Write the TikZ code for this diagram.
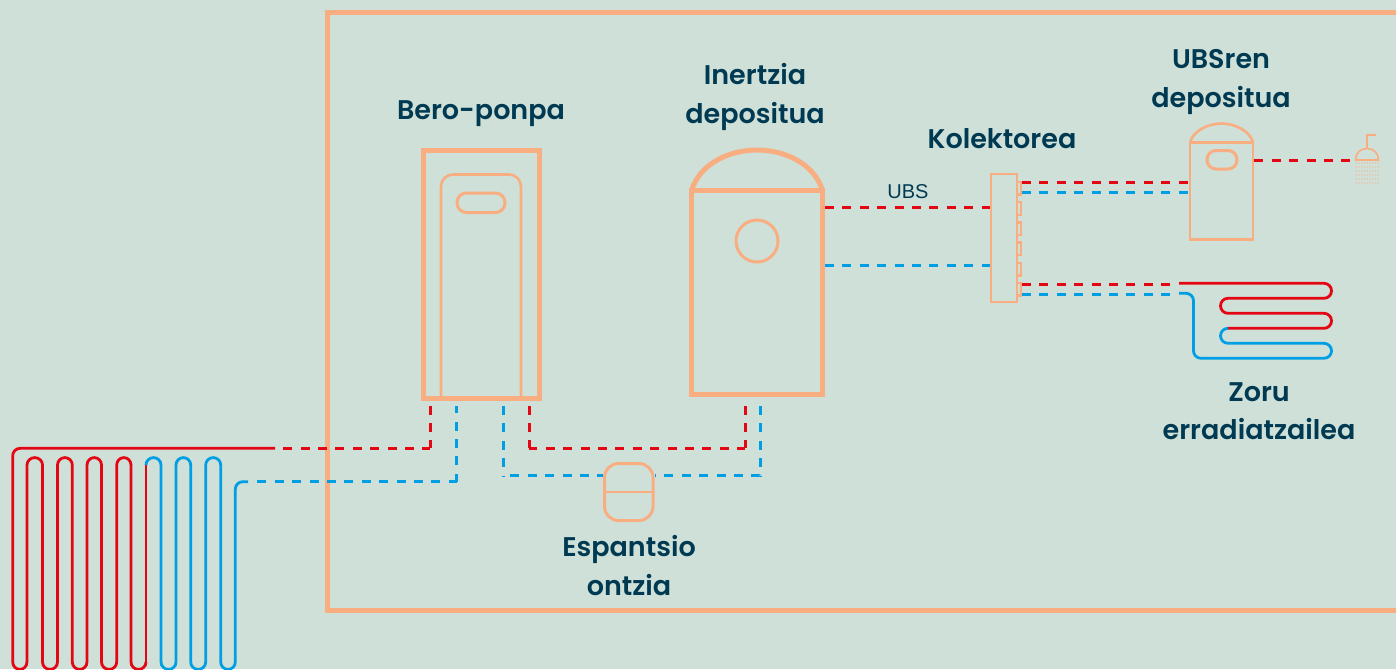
\documentclass[tikz,border=0pt]{standalone}
\usepackage{fontspec}
\setmainfont{Poppins SemiBold}
\newfontfamily\ubsfont{Liberation Sans}
\definecolor{bgc}{HTML}{CFE0D8}
\definecolor{orc}{HTML}{F9AE82}
\definecolor{redc}{HTML}{E30613}
\definecolor{bluc}{HTML}{009FE3}
\definecolor{txtc}{HTML}{003A52}
\tikzset{
  boxbase/.style={draw=orc,rectangle,inner sep=0pt,outer sep=0pt,anchor=north west},
  heavy/.style={boxbase,line width=5pt},
  medium/.style={boxbase,line width=2.6pt},
  thickor/.style={draw=orc,line width=5pt},
  medor/.style={draw=orc,line width=2.6pt},
  dashred/.style={draw=redc,line width=3pt,dash pattern=on 9pt off 8.4pt},
  dashblu/.style={draw=bluc,line width=3pt,dash pattern=on 9pt off 8.4pt},
  fromcorner/.style={dash phase=1pt},
  solred/.style={draw=redc,line width=2.8pt,rounded corners=7.5pt},
  solblu/.style={draw=bluc,line width=2.8pt,rounded corners=7.5pt},
  lab/.style={text=txtc,font=\fontsize{27}{38.5}\selectfont,align=center,inner sep=0pt},
}
\begin{document}
\begin{tikzpicture}[x=1pt,y=-1pt]
\useasboundingbox (0,0) rectangle (1396,669);
\clip (0,0) rectangle (1396,669);
\fill[bgc] (0,0) rectangle (1396,669);
\draw[orc,line width=5pt] (1410,12.5) -- (327.5,12.5) -- (327.5,610.5) -- (1410,610.5);

% heat pump
\node[heavy,minimum width=116pt,minimum height=248pt] (hp) at (423,150) {};
\draw[medor,rounded corners=12pt] (441,398) -- (441,174.5) -- (521,174.5) -- (521,398);
\node[medium,line width=3pt,rounded corners=9.5pt,minimum width=48pt,minimum height=19.5pt] (hphandle) at (457,193) {};

% buffer tank
\node[heavy,minimum width=131pt,minimum height=204pt] (tank) at (691.5,190.5) {};
\draw[thickor] (tank.north west) .. controls (700,163) and (730,150) .. (757,150) .. controls (784,150) and (814,163) .. (tank.north east);
\node[draw=orc,line width=3pt,circle,inner sep=0pt,minimum size=42pt] (gauge) at (757,241) {};

% collector
\node[medium,minimum width=26pt,minimum height=128pt] (coll) at (991,174) {};
\foreach \ty in {181,201.2,221.4,241.6,262,282}
  \draw[orc,line width=2.3pt] (1017,\ty+1) -- (1021,\ty+1) -- (1021,\ty+13.5) -- (1017,\ty+13.5);

% DHW tank
\node[medium,minimum width=63pt,minimum height=97pt] (dhw) at (1190,142.5) {};
\draw[medor] (dhw.north west) .. controls (1193,131) and (1208,123.5) .. (1221.5,123.5) .. controls (1235,123.5) and (1250,131) .. (dhw.north east);
\node[medium,line width=3pt,rounded corners=9pt,minimum width=30pt,minimum height=18.5pt] (dhwhandle) at (1207,150.5) {};

% shower
\coordinate (showertop) at (1367,135);
\draw[orc,line width=2pt] (1376,135) -- (showertop) -- (1367,149);
\draw[orc,line width=1.6pt] (1355.5,160) .. controls (1355.5,153) and (1360.5,148.5) .. (1367,148.5) .. controls (1373.5,148.5) and (1378.5,153) .. (1378.5,160) -- cycle;
\coordinate (showerin) at (1350,160.5);
\foreach \dx in {0,...,8}
  \foreach \dy in {0,...,5}
    \fill[orc!75!bgc] (1356.3+\dx*2.75,163+\dy*4) circle[radius=0.75];

% expansion vessel
\node[medium,line width=3pt,rounded corners=14pt,minimum width=48.5pt,minimum height=57pt] (exp) at (604.5,463.5) {};
\draw[orc,line width=2.6pt] (exp.west) -- (exp.east);

% connection points
\coordinate (hpa) at (430.3,406);
\coordinate (hpb) at (456.7,406);
\coordinate (hpc) at (503.3,406);
\coordinate (hpd) at (529.3,406);
\coordinate (tka) at (745.3,406);
\coordinate (tkb) at (760.3,406);
\coordinate (floorRd) at (283,448.3);
\coordinate (floorR) at (275,448.3);
\coordinate (floorBd) at (254,481.7);
\coordinate (floorB) at (248,481.7);
\coordinate (cu) at (1022,182.3);
\coordinate (cv) at (1022,192.3);
\coordinate (cw) at (1022,284.3);
\coordinate (cx) at (1022,294.3);
\coordinate (coilR) at (1179,283.3);
\coordinate (coilB) at (1179,293.3);
\coordinate (cnA) at (430.3,448.3);
\coordinate (cnB) at (456.7,481.7);
\coordinate (cnC) at (503.3,475.7);
\coordinate (cnD) at (529.3,448.3);
\coordinate (cnE) at (745.3,448.3);
\coordinate (cnF) at (760.3,475.7);
\coordinate (cnG) at (510.3,475.7);
\coordinate (expL) at (603,475.7);
\coordinate (expR) at (655,475.7);
\coordinate (tkR) at (825,207);
\coordinate (tkB) at (825,265.5);
\coordinate (coR) at (989.7,207);
\coordinate (coB) at (989.7,265.5);

% dashed connectors
\draw[dashred,fromcorner] (cnA) -- (hpa);
\draw[dashred,fromcorner] (cnA) -- (floorRd);
\draw[dashblu,fromcorner] (cnB) -- (hpb);
\draw[dashblu,fromcorner] (cnB) -- (floorBd);
\draw[dashblu] (hpc) -- (cnC);
\draw[dashblu] (cnG) -- (expL);
\draw[dashred,fromcorner] (cnD) -- (hpd);
\draw[dashred,fromcorner] (cnD) -- (cnE);
\draw[dashred,fromcorner] (cnE) -- (tka);
\draw[dashblu] (tkb) -- (cnF) -- (expR);
\draw[dashred] (tkR) -- (coR);
\draw[dashblu] (tkB) -- (coB);
\draw[dashred] (cu) -- ([xshift=-1.3pt]dhw.west |- cu);
\draw[dashblu] (cv) -- ([xshift=-1.3pt]dhw.west |- cv);
\draw[dashred] (cw) -- (1172,284.3);
\draw[dashblu] (cx) -- (1172,294.3);
\draw[dashred] ([xshift=1.3pt]dhw.east |- showerin) -- (showerin);
\node[font=\ubsfont\fontsize{20}{24}\selectfont,text=txtc,inner sep=0pt] (ubs) at (908,192) {UBS};

% room coil
\draw[solred] (coilR) -- (1331.5,283.3) -- (1331.5,298.3) -- (1220.5,298.3) -- (1220.5,313.3) -- (1331.5,313.3) -- (1331.5,328.3) -- (1228,328.3);
\draw[solblu] (1228,328.3) -- (1220.5,328.3) -- (1220.5,343.3) -- (1331.5,343.3) -- (1331.5,358.3) -- (1193.5,358.3) -- (1193.5,293.3) -- (coilB);

% ground coil
\draw[solred] (floorR) -- (12.7,448.3) -- (12.7,662);
\foreach \xa/\xb in {12.7/27,42.5/57.5,72.3/87,101.5/116.7,131/146}
  \draw[solred] (\xa,662) arc[start angle=180,end angle=360,x radius={(\xb-\xa)/2},y radius=-7.4];
\foreach \xa/\xb in {27/42.5,57.5/72.3,87/101.5,116.7/131}
  \draw[solred,rounded corners=0pt] (\xa,662) -- (\xa,465) arc[start angle=180,end angle=0,x radius={(\xb-\xa)/2},y radius=-7.4] -- (\xb,662);
\draw[solred] (146,662) -- (146,465);
\draw[solblu,rounded corners=0pt] (146,465) arc[start angle=180,end angle=0,x radius=7.5,y radius=-7.4] -- (161,662);
\foreach \xa/\xb in {161/176,190.7/205.7,220.7/235.3}
  \draw[solblu] (\xa,662) arc[start angle=180,end angle=360,x radius={(\xb-\xa)/2},y radius=-7.4];
\foreach \xa/\xb in {176/190.7,205.7/220.7}
  \draw[solblu,rounded corners=0pt] (\xa,662) -- (\xa,465) arc[start angle=180,end angle=0,x radius={(\xb-\xa)/2},y radius=-7.4] -- (\xb,662);
\draw[solblu] (235.3,662) -- (235.3,481.7) -- (floorB);

% labels
\node[lab] (l1) at (481,114) {Bero-ponpa};
\node[lab] (l2) at (755,97) {Inertzia\\depositua};
\node[lab] (l3) at (1002,139) {Kolektorea};
\node[lab] (l4) at (1221,82) {UBSren\\depositua};
\node[lab] (l5) at (1259,411) {Zoru\\erradiatzailea};
\node[lab] (l6) at (629,565.5) {Espantsio\\ontzia};
\end{tikzpicture}
\end{document}
